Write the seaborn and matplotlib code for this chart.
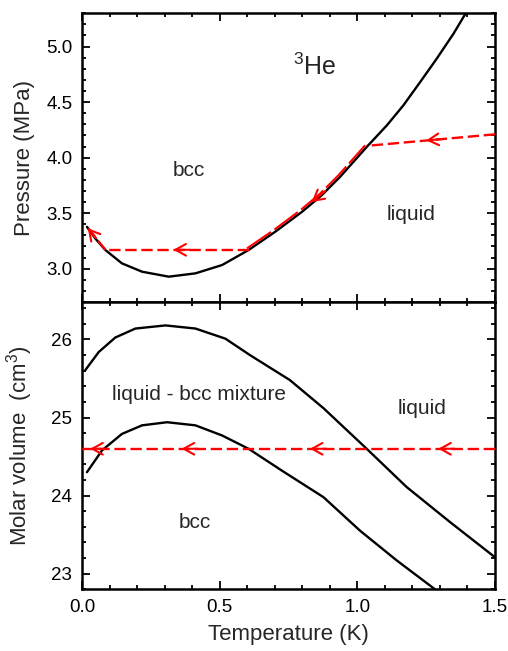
import numpy as np
import pandas as pd
import matplotlib
matplotlib.use("Agg")
import matplotlib.pyplot as plt
import matplotlib.transforms as mtrans
from matplotlib.ticker import MultipleLocator, FormatStrFormatter
import seaborn as sns

# ---------------- data ----------------
# melting curve P(T)
t_melt = [0.018, 0.048, 0.085, 0.145, 0.218, 0.315, 0.412, 0.509, 0.605,
          0.702, 0.799, 0.870, 0.937, 1.034, 1.107, 1.167, 1.228, 1.288,
          1.349, 1.391, 1.402]
p_melt = [3.377, 3.273, 3.168, 3.048, 2.973, 2.928, 2.958, 3.033, 3.168,
          3.333, 3.512, 3.660, 3.826, 4.096, 4.290, 4.470, 4.680, 4.890,
          5.115, 5.289, 5.33]

# path in P-T plane (red)
path_in_t = [1.5, 1.034]
path_in_p = [4.21, 4.106]
path_flat_t = [0.605, 0.085]
path_flat_p = [3.17, 3.17]
path_end_t = [0.085, 0.018]
path_end_p = [3.17, 3.377]
curve_seg_lo, curve_seg_hi = 0.605, 1.034

# arrow tips in top panel (T, P, direction dT, dP)
arr_top_t = [1.25, 0.834, 0.332, 0.021]
arr_top_p = [4.155, 3.60, 3.17, 3.365]
arr_top_dt = [0.06, 0.05, 0.06, 0.03]
arr_top_dp = [0.0126, 0.10, 0.0, -0.09]

# molar volume boundaries
t_liq = [0.012, 0.061, 0.121, 0.194, 0.303, 0.412, 0.521, 0.61,
         0.755, 0.877, 1.034, 1.179, 1.337, 1.5]
v_liq = [25.607, 25.84, 26.025, 26.14, 26.18, 26.14, 26.01, 25.80,
         25.48, 25.12, 24.60, 24.11, 23.66, 23.21]
t_sol = [0.018, 0.073, 0.145, 0.218, 0.309, 0.412, 0.509, 0.605, 0.726,
         0.877, 1.01, 1.143, 1.282]
v_sol = [24.30, 24.58, 24.79, 24.90, 24.94, 24.90, 24.77, 24.60, 24.32,
         23.98, 23.55, 23.17, 22.80]

# constant volume path (red)
path_v_t = [1.5, 0.0]
path_v_v = [24.6, 24.6]
arr_bot_t = [1.294, 0.828, 0.362, 0.03]

# labels
top_labels = [("bcc", 0.389, 3.887), ("liquid", 1.195, 3.49)]
bot_labels = [("liquid - bcc mixture", 0.425, 25.3), ("liquid", 1.235, 25.11),
              ("bcc", 0.41, 23.66)]

# ---------------- style ----------------
sns.set_theme(style="ticks")
plt.rcParams["font.family"] = ["Liberation Sans", "DejaVu Sans"]
plt.rcParams["mathtext.fontset"] = "custom"
plt.rcParams["mathtext.rm"] = "Liberation Sans"
plt.rcParams["mathtext.it"] = "Liberation Sans"

fig = plt.figure(figsize=(5.08, 6.51), dpi=100)
ax1 = fig.add_axes([0.1614, 0.5361, 0.813, 0.4435])
ax2 = fig.add_axes([0.1614, 0.0948, 0.813, 0.4413])

RED = "#ff0000"
DASH = (0, (4.8, 2.0))
arrowstyle = "->,head_length=0.75,head_width=0.42"


def arrow(ax, x, y, dx, dy):
    ax.annotate("", xy=(x, y), xytext=(x + dx, y + dy),
                arrowprops=dict(arrowstyle=arrowstyle, color=RED, lw=1.5,
                                mutation_scale=10, shrinkA=0, shrinkB=0),
                zorder=5)


# ---------------- top panel ----------------
df_m = pd.DataFrame({"T": t_melt, "P": p_melt})
sns.lineplot(data=df_m, x="T", y="P", ax=ax1, color="black", lw=1.7,
             sort=False, estimator=None, zorder=3)

for xs, ys in [(path_in_t, path_in_p), (path_flat_t, path_flat_p),
               (path_end_t, path_end_p)]:
    sns.lineplot(x=xs, y=ys, ax=ax1, color=RED, lw=1.7, linestyle=DASH,
                 sort=False, estimator=None, zorder=4)

seg = df_m[(df_m["T"] >= curve_seg_lo) & (df_m["T"] <= curve_seg_hi)]
off = mtrans.offset_copy(ax1.transData, fig=fig, x=-1.6, y=1.6, units="dots")
ax1.plot(seg["T"], seg["P"], color=RED, lw=1.5, linestyle=(0, (14, 2)),
         transform=off, zorder=4)

for x, y, dx, dy in zip(arr_top_t, arr_top_p, arr_top_dt, arr_top_dp):
    arrow(ax1, x, y, dx, dy)

ax1.text(0.846, 4.82, r"$^{3}$He", ha="center", va="center", fontsize=18)
for s, x, y in top_labels:
    ax1.text(x, y, s, ha="center", va="center", fontsize=15)

ax1.set_xlim(0, 1.5)
ax1.set_ylim(2.7, 5.3)
ax1.yaxis.set_major_locator(MultipleLocator(0.5))
ax1.yaxis.set_minor_locator(MultipleLocator(0.1))
ax1.set_ylabel("Pressure (MPa)", fontsize=16, labelpad=8)
ax1.set_xlabel("")
ax1.tick_params(axis="x", labelbottom=False)

# ---------------- bottom panel ----------------
df_l = pd.DataFrame({"T": t_liq, "V": v_liq})
df_s = pd.DataFrame({"T": t_sol, "V": v_sol})
sns.lineplot(data=df_l, x="T", y="V", ax=ax2, color="black", lw=1.7,
             sort=False, estimator=None, zorder=3)
sns.lineplot(data=df_s, x="T", y="V", ax=ax2, color="black", lw=1.7,
             sort=False, estimator=None, zorder=3)
sns.lineplot(x=path_v_t, y=path_v_v, ax=ax2, color=RED, lw=1.7, linestyle=DASH,
             sort=False, estimator=None, zorder=4)
for x in arr_bot_t:
    arrow(ax2, x, path_v_v[0], 0.06, 0.0)

for s, x, y in bot_labels:
    ax2.text(x, y, s, ha="center", va="center", fontsize=15)

ax2.set_xlim(0, 1.5)
ax2.set_ylim(22.8, 26.48)
ax2.yaxis.set_major_locator(MultipleLocator(1))
ax2.yaxis.set_minor_locator(MultipleLocator(0.2))
ax2.set_ylabel(r"Molar volume  (cm$^{3}$)", fontsize=16, labelpad=12)
ax2.set_xlabel("Temperature (K)", fontsize=16, labelpad=6)
ax2.xaxis.set_major_formatter(FormatStrFormatter("%.1f"))

for ax in (ax1, ax2):
    ax.xaxis.set_major_locator(MultipleLocator(0.5))
    ax.xaxis.set_minor_locator(MultipleLocator(0.1))
    ax.tick_params(which="both", direction="in", top=True, right=True,
                   width=1.3, colors="black", labelsize=13.5, pad=7)
    ax.tick_params(which="major", length=5.5)
    ax.tick_params(which="minor", length=2.8)
    for sp in ax.spines.values():
        sp.set_linewidth(1.8)
        sp.set_color("black")
    ax.set_facecolor("white")
    if ax.get_legend():
        ax.get_legend().remove()

fig.savefig("out.png", dpi=100, facecolor="white")
